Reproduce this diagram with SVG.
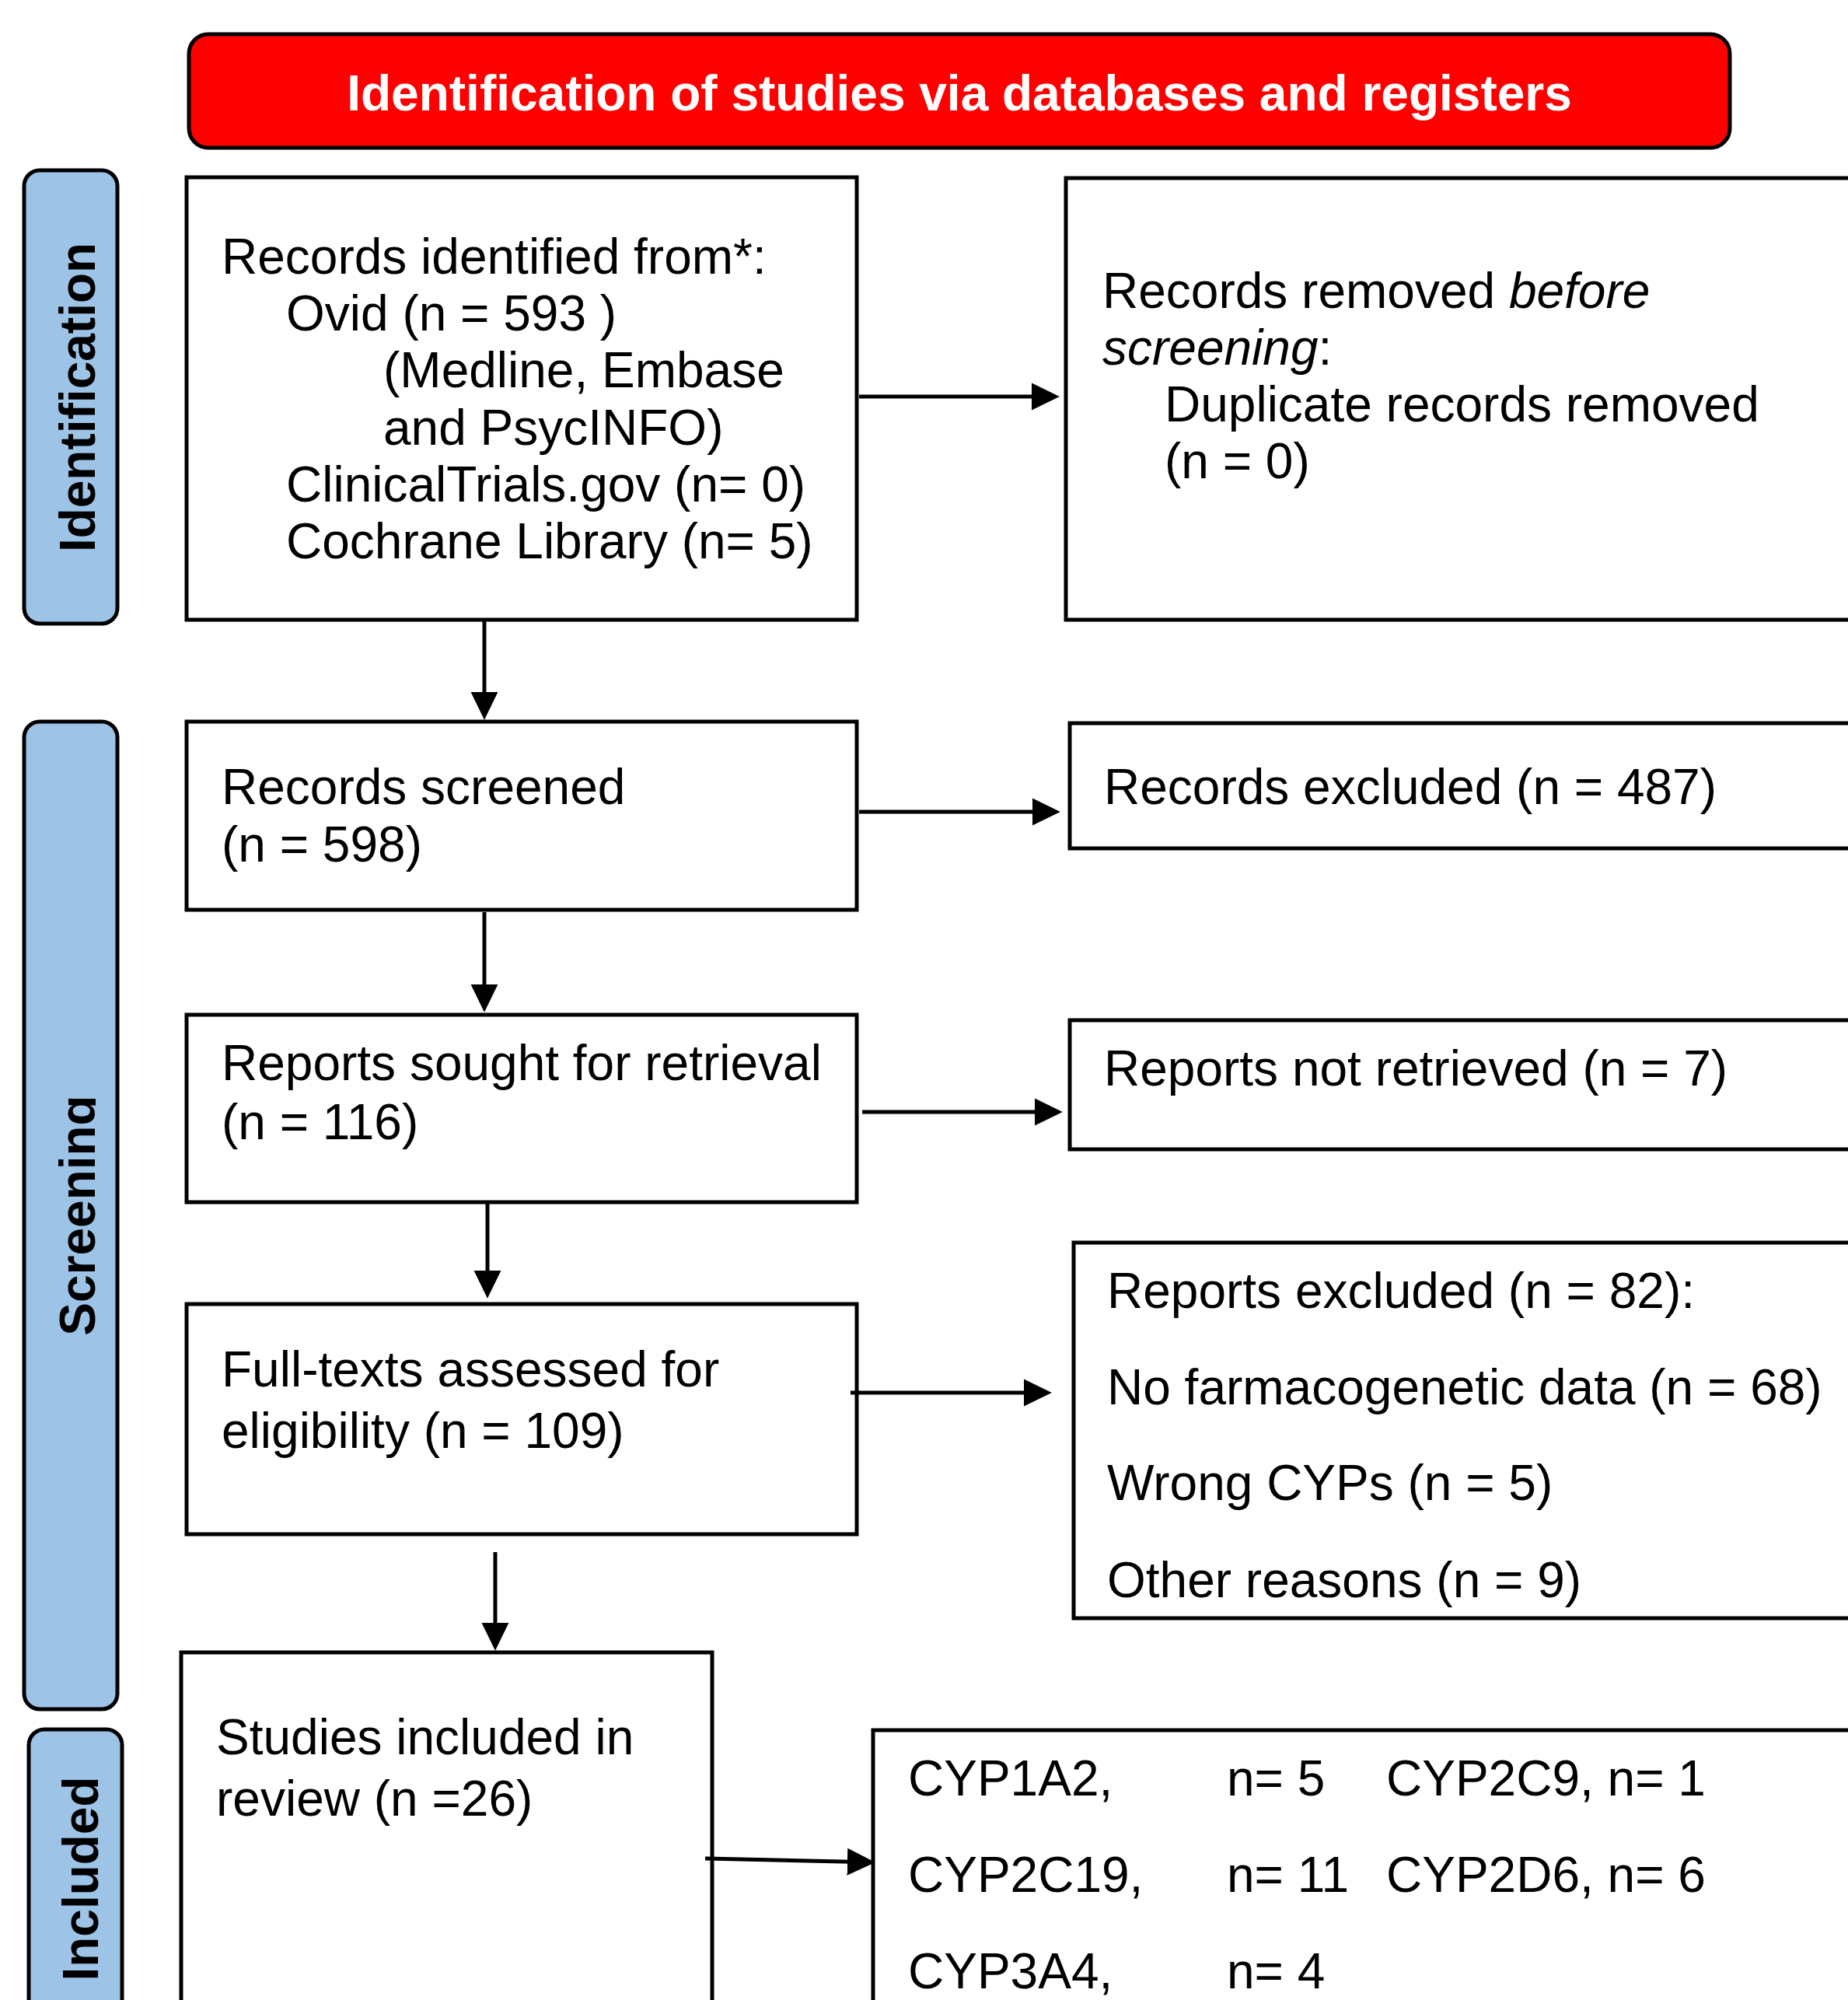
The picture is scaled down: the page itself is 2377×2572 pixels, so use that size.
<svg xmlns="http://www.w3.org/2000/svg" width="2377" height="2572" viewBox="0 0 2377 2572">
<style>
text{font-family:"Liberation Sans",Arial,sans-serif;font-size:64px;fill:#000}
.box{fill:#fff;stroke:#000;stroke-width:5}
.bar{fill:#9DC3E6;stroke:#000;stroke-width:5}
.stage{font-weight:bold;text-anchor:middle}
.title{font-weight:bold;fill:#fff;text-anchor:middle}
.con{fill:none;stroke:#000;stroke-width:5}
</style>
<defs>
<marker id="ah" markerUnits="userSpaceOnUse" markerWidth="36" markerHeight="36" viewBox="0 0 35 34" refX="5" refY="17" orient="auto">
<path d="M0,0 L35,17 L0,34 z" fill="#000"/>
</marker>
<clipPath id="clipScr" clipPathUnits="userSpaceOnUse"><rect x="28" y="930" width="95" height="1266"/></clipPath>
</defs>
<rect width="2377" height="2572" fill="#fff"/>

<g id="title">
<rect x="243" y="44" width="1982" height="146" rx="25" fill="#FF0000" stroke="#000" stroke-width="5"/>
<text class="title" x="1234" y="142">Identification of studies via databases and registers</text>
</g>

<g id="stage-identification">
<rect class="bar" x="31" y="219" width="120" height="583" rx="20"/>
<text class="stage" transform="translate(122,511) rotate(-90)">Identification</text>
</g>
<g id="stage-screening">
<rect class="bar" x="31" y="928" width="120" height="1270" rx="20"/>
<g clip-path="url(#clipScr)"><text class="stage" transform="translate(122,1563) rotate(-90)">Screening</text></g>
</g>
<g id="stage-included">
<rect class="bar" x="37" y="2224" width="120" height="420" rx="20"/>
<text class="stage" transform="translate(126,2416) rotate(-90)">Included</text>
</g>

<g id="records-identified">
<rect class="box" x="240" y="228" width="862" height="569"/>
<text x="285" y="352">Records identified from*:</text>
<text x="368" y="425">Ovid (n = 593 )</text>
<text x="493" y="498">(Medline, Embase</text>
<text x="493" y="572">and PsycINFO)</text>
<text x="368" y="645">ClinicalTrials.gov (n= 0)</text>
<text x="368" y="718">Cochrane Library (n= 5)</text>
</g>

<g id="records-removed">
<rect class="box" x="1371" y="229" width="1100" height="568"/>
<text x="1418" y="396">Records removed <tspan font-style="italic">before</tspan></text>
<text x="1418" y="469"><tspan font-style="italic">screening</tspan>:</text>
<text x="1498" y="542">Duplicate records removed</text>
<text x="1498" y="615">(n = 0)</text>
</g>

<g id="records-screened">
<rect class="box" x="240" y="928" width="862" height="242"/>
<text x="285" y="1034">Records screened</text>
<text x="285" y="1108">(n = 598)</text>
</g>

<g id="records-excluded">
<rect class="box" x="1376" y="930" width="1100" height="161"/>
<text x="1420" y="1034">Records excluded (n = 487)</text>
</g>

<g id="reports-sought">
<rect class="box" x="240" y="1305" width="862" height="241"/>
<text x="285" y="1389">Reports sought for retrieval</text>
<text x="285" y="1465">(n = 116)</text>
</g>

<g id="reports-not-retrieved">
<rect class="box" x="1376" y="1312" width="1100" height="166"/>
<text x="1420" y="1396">Reports not retrieved (n = 7)</text>
</g>

<g id="full-texts">
<rect class="box" x="240" y="1677" width="862" height="296"/>
<text x="285" y="1783">Full-texts assessed for</text>
<text x="285" y="1862">eligibility (n = 109)</text>
</g>

<g id="reports-excluded">
<rect class="box" x="1381" y="1598" width="1100" height="483"/>
<text x="1424" y="1682">Reports excluded (n = 82):</text>
<text x="1424" y="1806">No farmacogenetic data (n = 68)</text>
<text x="1424" y="1929">Wrong CYPs (n = 5)</text>
<text x="1424" y="2054">Other reasons (n = 9)</text>
</g>

<g id="studies-included">
<rect class="box" x="233" y="2125" width="683" height="520"/>
<text x="278" y="2256">Studies included in</text>
<text x="278" y="2335">review (n =26)</text>
</g>

<g id="cyp-breakdown">
<rect class="box" x="1123" y="2225" width="1350" height="420"/>
<text x="1168" y="2309">CYP1A2,</text>
<text x="1578" y="2309">n= 5</text>
<text x="1783" y="2309">CYP2C9, n= 1</text>
<text x="1168" y="2433">CYP2C19,</text>
<text x="1578" y="2433">n= 11</text>
<text x="1783" y="2433">CYP2D6, n= 6</text>
<text x="1168" y="2557">CYP3A4,</text>
<text x="1578" y="2557">n= 4</text>
</g>

<g id="connectors">
<line class="con" x1="1105" y1="510" x2="1332" y2="510" marker-end="url(#ah)"/>
<line class="con" x1="623" y1="797" x2="623" y2="895" marker-end="url(#ah)"/>
<line class="con" x1="1105" y1="1044" x2="1333" y2="1044" marker-end="url(#ah)"/>
<line class="con" x1="623" y1="1173" x2="623" y2="1271" marker-end="url(#ah)"/>
<line class="con" x1="1109" y1="1430" x2="1336" y2="1430" marker-end="url(#ah)"/>
<line class="con" x1="627" y1="1546" x2="627" y2="1639" marker-end="url(#ah)"/>
<line class="con" x1="1094" y1="1791" x2="1322" y2="1791" marker-end="url(#ah)"/>
<line class="con" x1="637" y1="1996" x2="637" y2="2092" marker-end="url(#ah)"/>
<line class="con" x1="907" y1="2390" x2="1095" y2="2394.3" marker-end="url(#ah)"/>
</g>
</svg>
